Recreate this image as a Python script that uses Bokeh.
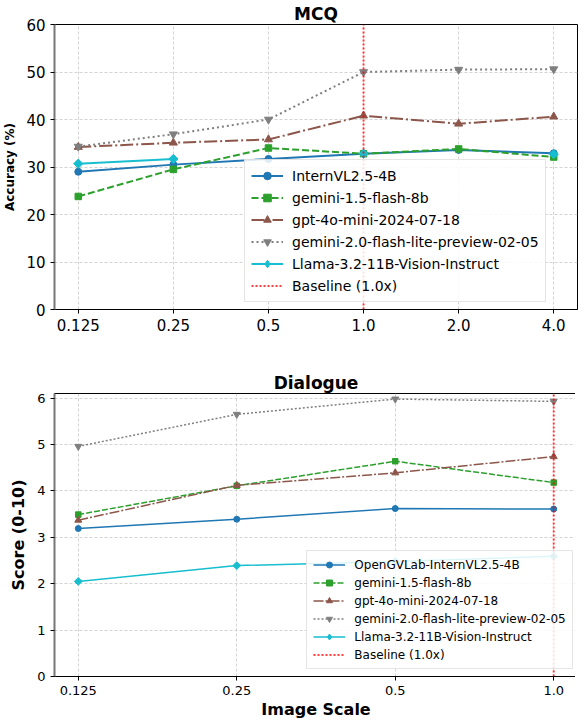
import math
from bokeh.plotting import figure
from bokeh.models import FixedTicker, Legend, LegendItem, Range1d
from bokeh.layouts import column
from bokeh.embed import file_html
from bokeh.resources import INLINE

nan = float("nan")

# ---------------- data ----------------
mcq_scales = [0.125, 0.25, 0.5, 1.0, 2.0, 4.0]
mcq_tick_labels = ["0.125", "0.25", "0.5", "1.0", "2.0", "4.0"]
mcq_internvl = [29.0, 30.5, 31.7, 32.8, 33.6, 32.9]
mcq_gemini15 = [23.8, 29.5, 34.0, 32.8, 33.8, 32.1]
mcq_gpt4omini = [34.2, 35.1, 35.8, 40.8, 39.1, 40.6]
mcq_gemini20 = [34.3, 36.9, 40.0, 50.0, 50.5, 50.6]
mcq_llama = [30.7, 31.7, nan, 32.8, nan, 32.7]
mcq_yticks = [0, 10, 20, 30, 40, 50, 60]

dlg_scales = [0.125, 0.25, 0.5, 1.0]
dlg_tick_labels = ["0.125", "0.25", "0.5", "1.0"]
dlg_internvl = [3.19, 3.39, 3.62, 3.61]
dlg_gemini15 = [3.49, 4.11, 4.64, 4.18]
dlg_gpt4omini = [3.37, 4.12, 4.39, 4.74]
dlg_gemini20 = [4.96, 5.65, 5.98, 5.93]
dlg_llama = [2.05, 2.39, 2.48, 2.59]
dlg_yticks = [0, 1, 2, 3, 4, 5, 6]

baseline_scale = 1.0

FONT = "DejaVu Sans"


def make_fig(title, scales, tick_labels, series, names, yticks, ymax, ylabel,
             ylabel_size, xlabel, tick_size, lw, msize, legend_font, legend_pos,
             legend_glyph_h, legend_spacing, frame_h, min_top, title_size, dashes):
    xs = [math.log2(s) for s in scales]
    span = xs[-1] - xs[0]
    p = figure(frame_width=523, frame_height=frame_h, output_backend="svg",
               toolbar_location=None, min_border_left=49, min_border_right=3,
               min_border_top=min_top, min_border_bottom=0,
               x_range=Range1d(xs[0] - 0.05 * span, xs[-1] + 0.05 * span),
               y_range=Range1d(0, ymax))
    p.title.text = title
    p.title.align = "center"
    p.title.text_font = FONT
    p.title.text_font_size = title_size
    p.title.text_font_style = "bold"
    p.title.text_color = "black"
    p.title.standoff = 2
    p.outline_line_color = "black"
    p.outline_line_width = 1
    p.background_fill_color = "white"

    p.xaxis.ticker = FixedTicker(ticks=xs)
    p.xaxis.major_label_overrides = {x: l for x, l in zip(xs, tick_labels)}
    p.yaxis.ticker = FixedTicker(ticks=yticks)
    for ax in (p.xaxis, p.yaxis):
        ax.major_label_text_font = FONT
        ax.major_label_text_font_size = tick_size
        ax.major_label_text_color = "black"
        ax.major_tick_out = 4
        ax.major_tick_in = 0
        ax.minor_tick_line_color = None
        ax.major_tick_line_color = "black"
        ax.axis_label_text_font = FONT
        ax.axis_label_text_font_style = "bold"
        ax.axis_label_text_color = "black"
    p.yaxis.axis_line_color = "#777777"
    p.yaxis.axis_line_width = 2
    p.xaxis.axis_line_color = "black"
    p.yaxis.axis_label = ylabel
    p.yaxis.axis_label_text_font_size = ylabel_size
    p.yaxis.axis_label_standoff = 6
    if xlabel:
        p.xaxis.axis_label = xlabel
        p.xaxis.axis_label_text_font_size = "16px"
        p.xaxis.axis_label_standoff = 2

    for g in (p.xgrid, p.ygrid):
        g.grid_line_color = "#c8c8c8"
        g.grid_line_dash = "3 2"
        g.grid_line_width = 0.8

    styles = [
        dict(color="#1f77b4", dash="solid", marker="circle", ms=msize),
        dict(color="#2ca02c", dash=dashes[0], marker="square", ms=msize - 0.5),
        dict(color="#8c564b", dash=dashes[1], marker="triangle", ms=msize + 1),
        dict(color="#7f7f7f", dash=dashes[2], marker="inverted_triangle", ms=msize + 1),
        dict(color="#17becf", dash="solid", marker="diamond", ms=msize),
    ]
    items = []
    for ys, name, st in zip(series, names, styles):
        lr = p.line(xs, ys, line_color=st["color"], line_width=lw, line_dash=st["dash"])
        if st["marker"] == "diamond":
            # legend-only diamond (tiny, hidden beneath the rotated squares)
            sr = p.scatter(xs, ys, marker="diamond", size=1,
                           fill_color=st["color"], line_color=st["color"])
            p.scatter(xs, ys, marker="square", size=st["ms"] - 0.5, angle=math.pi / 4,
                      fill_color=st["color"], line_color=st["color"])
        else:
            sr = p.scatter(xs, ys, marker=st["marker"], size=st["ms"],
                           fill_color=st["color"], line_color=st["color"])
        items.append(LegendItem(label=name, renderers=[lr, sr]))

    bx = math.log2(baseline_scale)
    br = p.line(x=[bx, bx], y=[0, ymax], line_color="#ff0000", line_alpha=0.75,
                line_width=2, line_dash="2 2")
    items.append(LegendItem(label="Baseline (1.0x)", renderers=[br]))

    leg = Legend(items=items, location=legend_pos)
    leg.label_text_font = FONT
    leg.label_text_font_size = legend_font
    leg.label_text_color = "black"
    leg.glyph_width = 32
    leg.glyph_height = legend_glyph_h
    leg.label_height = legend_glyph_h
    leg.spacing = legend_spacing
    leg.padding = 6
    leg.margin = 0
    leg.label_standoff = 9
    leg.border_line_color = "#cccccc"
    leg.border_line_width = 1
    leg.background_fill_alpha = 0.85
    p.add_layout(leg)
    return p


p1 = make_fig("MCQ", mcq_scales, mcq_tick_labels,
              [mcq_internvl, mcq_gemini15, mcq_gpt4omini, mcq_gemini20, mcq_llama],
              ["InternVL2.5-4B", "gemini-1.5-flash-8b", "gpt-4o-mini-2024-07-18",
               "gemini-2.0-flash-lite-preview-02-05", "Llama-3.2-11B-Vision-Instruct"],
              mcq_yticks, 60, "Accuracy (%)", "12px", None, "15px", 2, 7,
              "14px", (190, 7), 19, 3, 285, 0, "17px",
              ["7 3", "13 3 2 3", "2 3"])

p2 = make_fig("Dialogue", dlg_scales, dlg_tick_labels,
              [dlg_internvl, dlg_gemini15, dlg_gpt4omini, dlg_gemini20, dlg_llama],
              ["OpenGVLab-InternVL2.5-4B", "gemini-1.5-flash-8b", "gpt-4o-mini-2024-07-18",
               "gemini-2.0-flash-lite-preview-02-05", "Llama-3.2-11B-Vision-Instruct"],
              dlg_yticks, 6.1, "Score (0-10)", "16px", "Image Scale", "13px", 1.5, 6,
              "12px", (257, 7), 15, 3, 283, 60, "17px",
              ["6 2", "10 2 2 2", "2 2"])

layout = column(p1, p2, spacing=0)
open("out.html", "w").write(file_html(layout, INLINE))
